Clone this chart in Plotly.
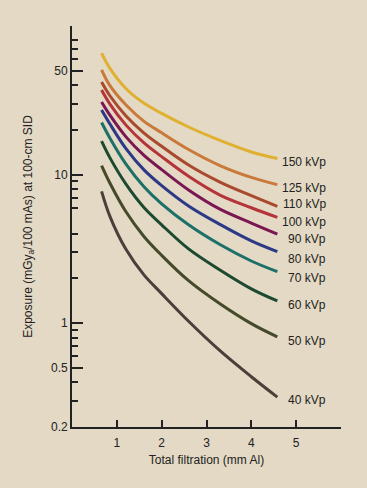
import math
import plotly.graph_objects as go

# Total filtration (mm Al) sample positions
filtration = [0.66, 0.85, 1.2, 1.6, 2.0, 2.6, 3.3, 4.0, 4.58]

kvp_labels = ["150 kVp", "125 kVp", "110 kVp", "100 kVp", "90 kVp",
              "80 kVp", "70 kVp", "60 kVp", "50 kVp", "40 kVp"]

# Exposure (mGy_a / 100 mAs) at 100-cm SID
exp_150 = [65.7, 51.6, 38.0, 30.3, 25.8, 20.9, 16.97, 14.19, 12.83]
exp_125 = [50.7, 39.5, 29.5, 22.9, 19.1, 14.75, 11.5, 9.57, 8.56]
exp_110 = [42.0, 33.8, 24.9, 19.1, 15.5, 11.6, 8.90, 7.21, 6.11]
exp_100 = [37.1, 29.7, 21.6, 16.4, 13.2, 9.74, 7.28, 5.98, 5.15]
exp_90 = [30.8, 25.0, 18.0, 13.5, 10.8, 7.88, 5.85, 4.72, 3.98]
exp_80 = [27.2, 21.8, 15.0, 10.8, 8.43, 6.15, 4.62, 3.58, 3.03]
exp_70 = [22.4, 17.5, 11.8, 8.32, 6.35, 4.59, 3.38, 2.62, 2.22]
exp_60 = [16.8, 12.9, 8.66, 6.03, 4.59, 3.16, 2.28, 1.70, 1.41]
exp_50 = [11.5, 8.71, 5.64, 3.85, 2.86, 1.93, 1.35, 0.992, 0.808]
exp_40 = [7.71, 5.19, 3.15, 2.12, 1.58, 1.03, 0.653, 0.436, 0.318]

series = [exp_150, exp_125, exp_110, exp_100, exp_90,
          exp_80, exp_70, exp_60, exp_50, exp_40]

colors = ["#E0B030", "#C97A3A", "#A94A2E", "#B4343A", "#7A1752",
          "#2B3987", "#1D7068", "#1C4A30", "#454A2A", "#4A3F3A"]

# vertical nudges (px) of the end labels relative to each curve's end
label_shift = [-3, -3, 2, -5, -5, -7, -6, -4, -4, -3]

x_ticks = [1, 2, 3, 4, 5]
y_major = [0.2, 0.5, 1, 10, 50, 100]
y_major_text = ["0.2", "0.5", "1", "10", "50", ""]
y_minor = [0.3, 0.4, 0.6, 0.7, 0.8, 0.9, 2, 3, 4, 6, 7, 8, 9,
           20, 30, 40, 60, 70, 80]

label_x = 5.71
bg = "#E3D9C4"
ink = "#222222"
font = "Liberation Sans, Arial, sans-serif"

fig = go.Figure()
for vals, col, name, dy in zip(series, colors, kvp_labels, label_shift):
    fig.add_trace(go.Scatter(
        x=filtration, y=vals, mode="lines", name=name,
        line=dict(color=col, width=3, shape="spline", smoothing=1.0),
        showlegend=False, hoverinfo="skip"))
    fig.add_annotation(
        x=label_x, y=math.log10(vals[-1]), text=name, showarrow=False,
        xanchor="right", yanchor="middle", yshift=dy,
        font=dict(size=12, color=ink, family=font))

fig.update_layout(
    width=367, height=488,
    margin=dict(l=72, r=26, t=26, b=61),
    paper_bgcolor=bg, plot_bgcolor=bg,
    font=dict(family=font, size=12, color=ink),
    hovermode=False,
    xaxis=dict(
        range=[0, 6], tickmode="array", tickvals=x_ticks,
        ticks="inside", ticklen=7, tickwidth=1.5, tickcolor=ink,
        showline=True, linecolor=ink, linewidth=1.8,
        showgrid=False, zeroline=False, automargin=False,
        ticklabelstandoff=4,
        tickfont=dict(size=12, color=ink),
        title=dict(text="Total filtration (mm Al)", font=dict(size=12, color=ink), standoff=6),
    ),
    yaxis=dict(
        type="log", range=[math.log10(0.2), 2.0],
        tickmode="array", tickvals=y_major, ticktext=y_major_text,
        ticks="inside", ticklen=11, tickwidth=1.5, tickcolor=ink,
        minor=dict(tickmode="array", tickvals=y_minor, ticks="inside",
                   ticklen=6, tickwidth=1.5, tickcolor=ink, showgrid=False),
        showline=True, linecolor=ink, linewidth=1.8,
        showgrid=False, zeroline=False, automargin=False,
        tickfont=dict(size=12, color=ink),
        title=dict(text="Exposure (mGy<sub>a</sub>/100 mAs) at 100-cm SID",
                   font=dict(size=12, color=ink), standoff=16),
    ),
)

fig.write_html(
    "out.html",
    config={"displayModeBar": False},
    post_script="document.body.style.margin='0';"
                "document.body.style.background='" + bg + "';",
)
